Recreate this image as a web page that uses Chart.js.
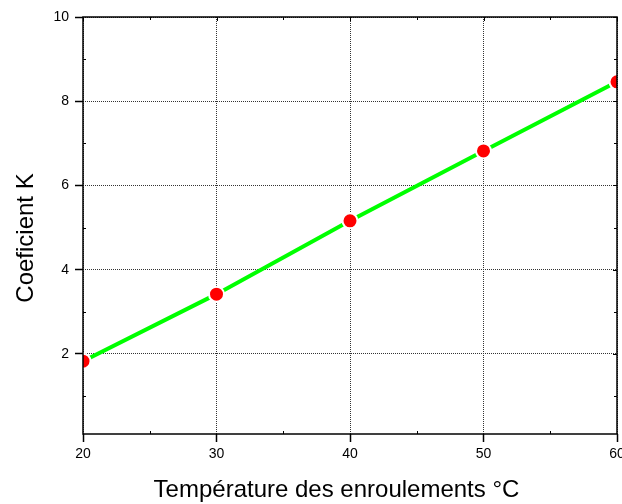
<!DOCTYPE html>
<html><head><meta charset="utf-8">
<script src="https://cdn.jsdelivr.net/npm/chart.js@4/dist/chart.umd.min.js"></script>
<style>html,body{margin:0;padding:0;background:#fff}#wrap{width:622px;height:504px}</style>
</head><body><div id="wrap"><canvas id="c" width="622" height="504"></canvas></div>
<script>
const temperatures = [20, 30, 40, 50, 60];
const coefK = [1.83, 3.42, 5.16, 6.82, 8.46];
const xTicks = [20, 30, 40, 50, 60];
const yTicks = [2, 4, 6, 8, 10];
const xMinorTicks = [25, 35, 45, 55];
const yMinorTicks = [1, 3, 5, 7, 9];
const xTitle = 'Température des enroulements °C';
const yTitle = 'Coeficient K';

const FONT = "'Liberation Sans', Arial, sans-serif";
const NOPAD = () => ({left: 0, right: 0, top: 0, bottom: 0});

const framePlugin = {
  id: 'frame',
  afterDatasetsDraw(chart) {
    const {ctx, chartArea: a, scales: {x, y}} = chart;
    ctx.save();
    ctx.strokeStyle = '#000';
    function seg(x1, y1, x2, y2) { ctx.beginPath(); ctx.moveTo(x1, y1); ctx.lineTo(x2, y2); ctx.stroke(); }
    ctx.lineWidth = 1;
    xMinorTicks.forEach(v => {
      const px = Math.round(x.getPixelForValue(v)) + 0.5;
      seg(px, a.bottom, px, a.bottom - 3);
      seg(px, a.top, px, a.top + 3);
    });
    xTicks.forEach(v => {
      const px = Math.round(x.getPixelForValue(v)) + 0.5;
      seg(px, a.top, px, a.top + 4);
    });
    yMinorTicks.forEach(v => {
      const py = Math.round(y.getPixelForValue(v)) + 0.5;
      seg(a.left, py, a.left + 3, py);
      seg(a.right, py, a.right - 3, py);
    });
    yTicks.forEach(v => {
      const py = Math.round(y.getPixelForValue(v)) + 0.5;
      seg(a.right, py, a.right - 4, py);
    });
    ctx.lineWidth = 1.5;
    ctx.strokeRect(a.left, a.top, a.right - a.left, a.bottom - a.top);
    ctx.restore();
  },
  afterDraw(chart) {
    const {ctx, chartArea: a} = chart;
    ctx.save();
    ctx.fillStyle = '#000';
    ctx.font = '24px ' + FONT;
    ctx.textAlign = 'center';
    ctx.textBaseline = 'middle';
    // x axis title
    ctx.fillText(xTitle, (a.left + a.right) / 2 - 13.5, a.bottom + 56);
    // y axis title
    ctx.translate(a.left - 56.5, (a.top + a.bottom) / 2 + 12.5);
    ctx.rotate(-Math.PI / 2);
    ctx.fillText(yTitle, 0, 0);
    ctx.restore();
  }
};

new Chart(document.getElementById('c'), {
  type: 'scatter',
  data: {
    datasets: [{
      data: temperatures.map((t, i) => ({x: t, y: coefK[i]})),
      showLine: true,
      borderColor: '#00ff00',
      borderWidth: 4,
      backgroundColor: '#ff0000',
      pointBackgroundColor: '#ff0000',
      pointBorderColor: '#ffffff',
      pointBorderWidth: 2,
      pointRadius: 7.5,
      pointHoverRadius: 7.5,
      clip: 0
    }]
  },
  options: {
    responsive: false,
    animation: false,
    devicePixelRatio: 1,
    layout: {autoPadding: false, padding: {left: 0, right: 5, top: 17, bottom: 0}},
    plugins: {legend: {display: false}, tooltip: {enabled: false}},
    scales: {
      x: {
        type: 'linear', min: 20, max: 60,
        afterBuildTicks: s => { s.ticks = xTicks.map(v => ({value: v})); },
        afterFit: s => { s.height = 70; s.paddingLeft = 0; s.paddingRight = 0; s.getPadding = NOPAD; },
        border: {display: false, dash: [1, 1]},
        grid: {
          color: '#333', lineWidth: 1,
          drawTicks: true, tickLength: 8, tickColor: '#000', tickWidth: 1.5, tickBorderDash: []
        },
        ticks: {color: '#000', font: {family: FONT, size: 14}, padding: 4, maxRotation: 0},
        title: {display: false, text: xTitle}
      },
      y: {
        type: 'linear', min: 0.1, max: 10,
        afterBuildTicks: s => { s.ticks = yTicks.map(v => ({value: v})); },
        afterFit: s => { s.width = 83; s.paddingTop = 0; s.paddingBottom = 0; s.getPadding = NOPAD; },
        border: {display: false, dash: [1, 1]},
        grid: {
          color: '#333', lineWidth: 1,
          drawTicks: true, tickLength: 8, tickColor: '#000', tickWidth: 1.5, tickBorderDash: []
        },
        ticks: {color: '#000', font: {family: FONT, size: 14}, padding: 6},
        title: {display: false, text: yTitle}
      }
    }
  },
  plugins: [framePlugin]
});
</script>
</body></html>
